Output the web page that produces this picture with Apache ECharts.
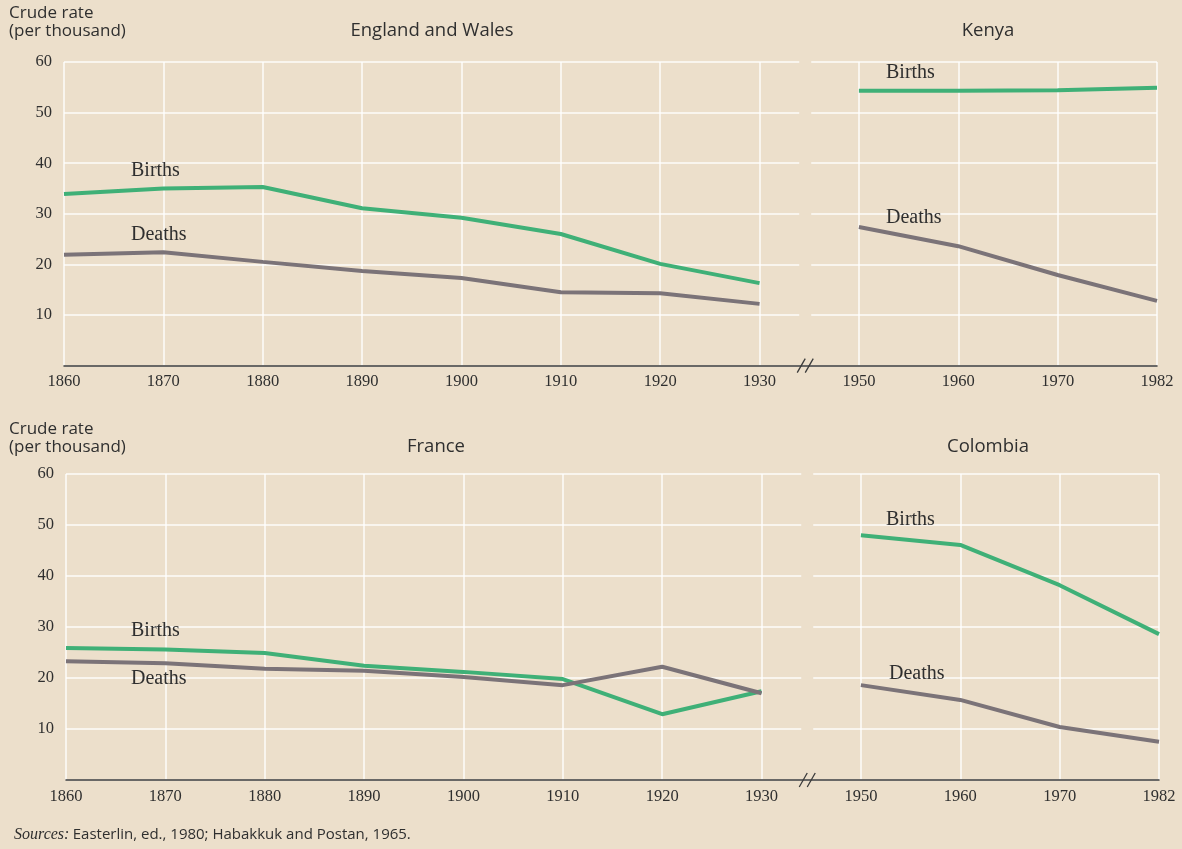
<!DOCTYPE html>
<html><head><meta charset="utf-8">
<script src="https://cdn.jsdelivr.net/npm/echarts@6/dist/echarts.min.js"></script>
<style>html,body{margin:0;padding:0;background:#ecdfcb;} #c{width:1182px;height:849px;}</style>
</head><body><div id="c"></div><script>
// ---- data ----
const years = ['1860','1870','1880','1890','1900','1910','1920','1930','1950','1960','1970','1982'];
const histYears = ['1860','1870','1880','1890','1900','1910','1920','1930'];
const modYears = ['1950','1960','1970','1982'];
const englandBirths = [33.9, 35.0, 35.3, 31.1, 29.2, 26.0, 20.1, 16.3];
const englandDeaths = [21.9, 22.4, 20.5, 18.7, 17.3, 14.5, 14.3, 12.2];
const kenyaBirths = [54.3, 54.3, 54.4, 54.9];
const kenyaDeaths = [27.4, 23.6, 17.9, 12.8];
const franceBirths = [25.9, 25.6, 24.9, 22.4, 21.2, 19.8, 12.9, 17.4];
const franceDeaths = [23.3, 22.9, 21.8, 21.4, 20.2, 18.6, 22.2, 17.0];
const colombiaBirths = [48.0, 46.1, 38.2, 28.6];
const colombiaDeaths = [18.6, 15.7, 10.4, 7.5];
const yMin = 0, yMax = 60, yStep = 10;

// ---- styles ----
const BG = '#ecdfcb';
const GREEN = '#3fb077';
const GRAY = '#7b7378';
const INK = '#2f2f2f';
const SERIF = '"Liberation Serif", serif';
const SANS = '"Open Sans", sans-serif';

const pair = (xs, vs) => xs.map((x, i) => [x, vs[i]]);

const chart = echarts.init(document.getElementById('c'));

function xAxisCfg(gi) {
  return {
    type: 'category', gridIndex: gi, data: years, boundaryGap: false,
    axisTick: { show: false },
    axisLine: { lineStyle: { color: '#3a3a3a', width: 1.5 } },
    axisLabel: { color: INK, fontFamily: SERIF, fontSize: 16.5, margin: 8 },
    splitLine: { show: true, lineStyle: { color: 'rgba(255,255,255,0.9)', width: 1.5 } }
  };
}
function yAxisCfg(gi) {
  return {
    type: 'value', gridIndex: gi, min: yMin, max: yMax, interval: yStep,
    axisLine: { show: false }, axisTick: { show: false },
    axisLabel: { color: INK, fontFamily: SERIF, fontSize: 16.5, margin: 12,
      formatter: v => (v === 0 ? '' : String(v)) },
    splitLine: { show: true, lineStyle: { color: 'rgba(255,255,255,0.9)', width: 1.5 } }
  };
}
function lineSeries(gi, data, color) {
  return { type: 'line', xAxisIndex: gi, yAxisIndex: gi, data, symbol: 'none',
    lineStyle: { color, width: 4 }, z: 3, silent: true, animation: false };
}

function txt(x, y, text, font, size, align, extra) {
  return Object.assign({ type: 'text', x, y, z: 10,
    style: { text, fill: INK, font: size + 'px ' + font, textAlign: align || 'left', textVerticalAlign: 'middle' } }, extra || {});
}

const labels = [
  txt(9, 13, 'Crude rate', SANS, 17),
  txt(9, 31, '(per thousand)', SANS, 17),
  txt(432, 31, 'England and Wales', SANS, 18.5, 'center'),
  txt(988, 31, 'Kenya', SANS, 18.5, 'center'),
  txt(9, 429, 'Crude rate', SANS, 17),
  txt(9, 447, '(per thousand)', SANS, 17),
  txt(436, 447, 'France', SANS, 18.5, 'center'),
  txt(988, 447, 'Colombia', SANS, 18.5, 'center'),
  txt(131, 171, 'Births', SERIF, 20),
  txt(131, 235, 'Deaths', SERIF, 20),
  txt(886, 73, 'Births', SERIF, 20),
  txt(886, 218, 'Deaths', SERIF, 20),
  txt(131, 631, 'Births', SERIF, 20),
  txt(131, 679, 'Deaths', SERIF, 20),
  txt(886, 520, 'Births', SERIF, 20),
  txt(889, 674, 'Deaths', SERIF, 20),
  { type: 'text', x: 14, y: 835, z: 10, style: {
      rich: { i: { fontFamily: SERIF, fontStyle: 'italic', fontSize: 16, fill: INK },
              n: { fontFamily: SANS, fontSize: 15, fill: INK } },
      text: '{i|Sources:} {n|Easterlin, ed., 1980; Habakkuk and Postan, 1965.}',
      textVerticalAlign: 'middle' } }
];

chart.setOption({
  backgroundColor: BG,
  animation: false,
  grid: [
    { left: 64, right: 25, top: 62, height: 303.6 },
    { left: 66, right: 23, top: 474, height: 306 }
  ],
  xAxis: [xAxisCfg(0), xAxisCfg(1)],
  yAxis: [yAxisCfg(0), yAxisCfg(1)],
  series: [
    lineSeries(0, pair(histYears, englandBirths), GREEN),
    lineSeries(0, pair(histYears, englandDeaths), GRAY),
    lineSeries(0, pair(modYears, kenyaBirths), GREEN),
    lineSeries(0, pair(modYears, kenyaDeaths), GRAY),
    lineSeries(1, pair(histYears, franceBirths), GREEN),
    lineSeries(1, pair(histYears, franceDeaths), GRAY),
    lineSeries(1, pair(modYears, colombiaBirths), GREEN),
    lineSeries(1, pair(modYears, colombiaDeaths), GRAY)
  ],
  graphic: labels
});

// axis break decoration between 1930 and 1950
const extra = [];
[0, 1].forEach(gi => {
  const xa = chart.convertToPixel({ xAxisIndex: gi }, '1930');
  const xb = chart.convertToPixel({ xAxisIndex: gi }, '1950');
  const yTop = chart.convertToPixel({ yAxisIndex: gi }, yMax);
  const yBot = chart.convertToPixel({ yAxisIndex: gi }, yMin);
  const mid = (xa + xb) / 2 - 4;
  extra.push({ type: 'rect', z: 1, shape: { x: mid - 6, y: yTop - 3, width: 12, height: yBot - yTop + 1 },
    style: { fill: BG } });
  [-4, 4].forEach(d => extra.push({ type: 'line', z: 5,
    shape: { x1: mid + d - 4, y1: yBot + 7, x2: mid + d + 4, y2: yBot - 7 },
    style: { stroke: '#3a3a3a', lineWidth: 1.3 } }));
});
chart.setOption({ graphic: labels.concat(extra) });
</script></body></html>
